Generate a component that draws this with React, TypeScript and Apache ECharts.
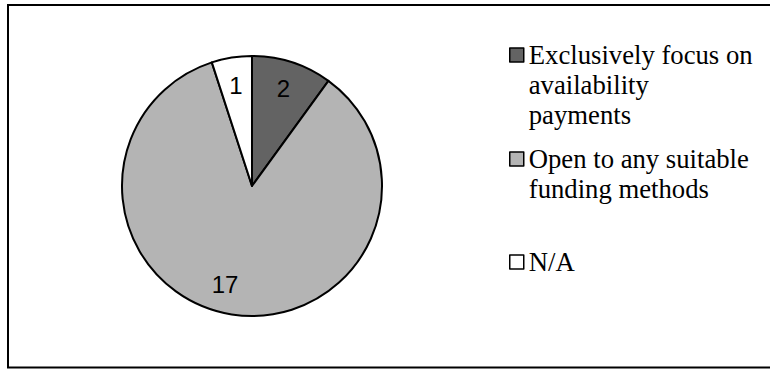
import React, { useEffect, useRef } from "react";
import * as echarts from "echarts";

const categories = [
  "Exclusively focus on availability payments",
  "Open to any suitable funding methods",
  "N/A",
];
const values = [2, 17, 1];
const legendLines = [
  ["Exclusively focus on", "availability", "payments"],
  ["Open to any suitable", "funding methods"],
  ["N/A"],
];
const sliceColors = ["#636363", "#b4b4b4", "#ffffff"];

export default function App() {
  const ref = useRef<HTMLDivElement>(null);
  useEffect(() => {
    if (!ref.current) return;
    const chart = echarts.init(ref.current, null, { renderer: "svg" });
    const center = [252, 186];
    const R = 130;
    const lh = 30;
    const iconTops = [48, 152, 255];

    const legends = categories.map((name, i) => {
      const lines = legendLines[i];
      const n = lines.length;
      // pad with leading empty lines so the first text line aligns with the icon
      const padded = Array(n - 1).fill("").concat(lines).join("\n");
      const total = (2 * n - 1) * lh;
      const rectTop = 7 - total / 2;
      return {
        show: true,
        orient: "vertical",
        left: 509,
        top: iconTops[i] + rectTop,
        padding: 0,
        data: [name],
        icon: "rect",
        itemWidth: 14,
        itemHeight: 14,
        itemGap: 0,
        selectedMode: false,
        formatter: () => padded,
        itemStyle: { borderColor: "#000", borderWidth: 1.5 },
        textStyle: {
          fontFamily: "'Liberation Serif', 'Times New Roman', serif",
          fontSize: 26.7,
          lineHeight: lh,
          color: "#000",
        },
      };
    });

    const labelFont = {
      fontFamily: "'Liberation Sans', Arial, sans-serif",
      fontSize: 24,
      color: "#000",
    };

    const mkData = (showIdx: number[]) =>
      categories.map((name, i) => ({
        name,
        value: values[i],
        label: { show: showIdx.includes(i) },
      }));

    const labelPie = (showIdx: number[], extra: any) => ({
      type: "pie",
      center,
      radius: [0, 198],
      startAngle: 90,
      clockwise: true,
      silent: true,
      legendHoverLink: false,
      itemStyle: { color: "rgba(0,0,0,0)", borderWidth: 0 },
      label: { position: "inside", formatter: "{c}", ...labelFont },
      labelLine: { show: false },
      data: mkData(showIdx),
      z: 3,
      ...extra,
    });

    chart.setOption({
      animation: false,
      backgroundColor: "#fff",
      graphic: [
        {
          type: "rect",
          shape: { x: 8, y: 5, width: 800, height: 362.5 },
          style: { fill: "none", stroke: "#000", lineWidth: 2 },
          silent: true,
          z: 100,
        },
      ],
      legend: legends,
      series: [
        {
          type: "pie",
          center,
          radius: [0, R],
          startAngle: 90,
          clockwise: true,
          silent: true,
          label: { show: false },
          labelLine: { show: false },
          itemStyle: { borderColor: "#000", borderWidth: 2 },
          data: categories.map((name, i) => ({
            name,
            value: values[i],
            itemStyle: { color: sliceColors[i] },
          })),
          z: 2,
        },
        labelPie([0, 2], {}),
        labelPie([1], { labelLayout: { dx: -11, dy: -2 } }),
      ],
    });
    return () => chart.dispose();
  }, []);
  return (
    <div
      ref={ref}
      style={{ position: "fixed", left: 0, top: 0, width: 770, height: 369 }}
    />
  );
}
